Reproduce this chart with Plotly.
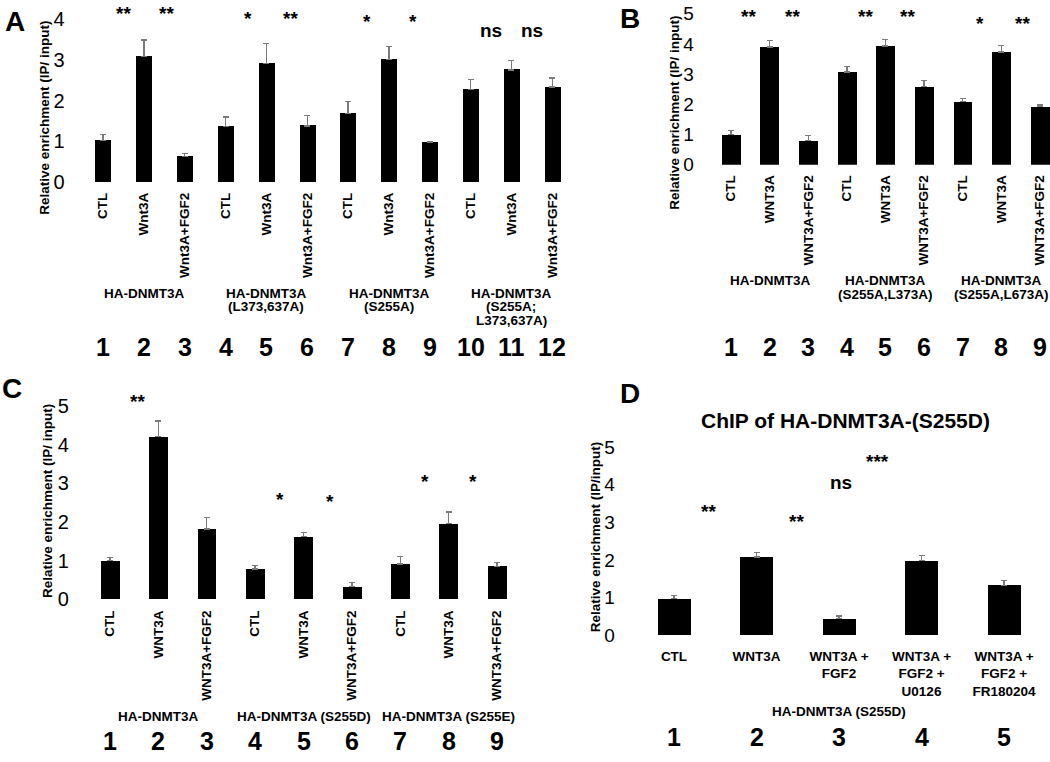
import plotly.graph_objects as go

W, H = 1050, 762
FONT = "Liberation Sans, Arial, sans-serif"

# ---------------- data ----------------
# Panel A
a_labels = ["CTL", "Wnt3A", "Wnt3A+FGF2"] * 4
a_values = [1.02, 3.08, 0.63, 1.37, 2.90, 1.38, 1.68, 3.00, 0.97, 2.27, 2.75, 2.33]
a_errors = [0.15, 0.40, 0.07, 0.23, 0.50, 0.26, 0.30, 0.32, 0.03, 0.25, 0.23, 0.22]
a_groups = ["HA-DNMT3A", "HA-DNMT3A\n(L373,637A)", "HA-DNMT3A\n(S255A)",
            "HA-DNMT3A\n(S255A;\nL373,637A)"]
a_group_pos = [1, 4, 7, 10]
a_numbers = [str(i) for i in range(1, 13)]
a_sig_text = ["**", "**", "*", "**", "*", "*", "ns", "ns"]
a_sig_x = [0.5, 1.55, 3.55, 4.58, 6.47, 7.6, 9.5, 10.5]
a_sig_y = [4.24, 4.24, 4.12, 4.12, 4.05, 4.05, 3.71, 3.71]
a_ticks = [0, 1, 2, 3, 4]

# Panel B
b_labels = ["CTL", "WNT3A", "WNT3A+FGF2"] * 3
b_values = [1.01, 3.90, 0.80, 3.07, 3.93, 2.60, 2.10, 3.73, 1.93]
b_errors = [0.13, 0.22, 0.16, 0.19, 0.22, 0.18, 0.09, 0.22, 0.05]
b_groups = ["HA-DNMT3A", "HA-DNMT3A\n(S255A,L373A)", "HA-DNMT3A\n(S255A,L673A)"]
b_group_pos = [1, 4, 7]
b_numbers = [str(i) for i in range(1, 10)]
b_sig_text = ["**", "**", "**", "**", "*", "**"]
b_sig_x = [0.44, 1.58, 3.47, 4.56, 6.45, 7.56]
b_sig_y = [5.06, 5.06, 5.06, 5.06, 4.84, 4.84]
b_ticks = [0, 1, 2, 3, 4, 5]

# Panel C
c_labels = ["CTL", "WNT3A", "WNT3A+FGF2"] * 3
c_values = [1.00, 4.22, 1.82, 0.78, 1.62, 0.32, 0.91, 1.96, 0.85]
c_errors = [0.08, 0.40, 0.30, 0.09, 0.10, 0.11, 0.20, 0.30, 0.09]
c_groups = ["HA-DNMT3A", "HA-DNMT3A (S255D)", "HA-DNMT3A (S255E)"]
c_group_pos = [1, 4, 7]
c_numbers = [str(i) for i in range(1, 10)]
c_sig_text = ["**", "**", "*", "*", "*", "*"]
c_sig_x = [0.56, 1.59, 3.51, 4.55, 6.51, 7.5]
c_sig_y = [5.27, 5.32, 2.72, 2.67, 3.18, 3.18]
c_ticks = [0, 1, 2, 3, 4, 5]

# Panel D
d_labels = ["CTL", "WNT3A", "WNT3A +<br>FGF2", "WNT3A +<br>FGF2 +<br>U0126",
            "WNT3A +<br>FGF2 +<br>FR180204"]
d_values = [0.98, 2.08, 0.45, 1.98, 1.33]
d_errors = [0.07, 0.12, 0.06, 0.14, 0.13]
d_groups = ["HA-DNMT3A (S255D)"]
d_group_pos = [2]
d_numbers = [str(i) for i in range(1, 6)]
d_sig_text = ["**", "**", "ns", "***"]
d_sig_x = [0.42, 1.49, 2.02, 2.47]
d_sig_y = [3.41, 3.15, 4.06, 4.74]
d_ticks = [0, 1, 2, 3, 4, 5]
d_title = "ChIP of HA-DNMT3A-(S255D)"

YTITLE = "Relative enrichment (IP/ input)"
YTITLE_D = "Relative enrichment (IP/input)"

# ---------------- layout geometry (pixels) ----------------
def fx(px):
    return px / W


def fy(py):
    return 1 - py / H


panels = [
    dict(key="", labels=a_labels, values=a_values, errors=a_errors, bw=0.39,
         x_px=(82.6, 572.6), xr=[-0.5, 11.5], y_px=(182, 2.5), yr=[0, 4.3],
         ticks=a_ticks, tickangle=-90, tfs=20, ticklen=13, xtl=4,
         groups=a_groups, gpos=a_group_pos, g_mid=295, numbers=a_numbers, n_y=350,
         sig=(a_sig_text, a_sig_x, a_sig_y), letter=("A", 15, 18),
         ytitle=(YTITLE, 45, 116)),
    dict(key="2", labels=b_labels, values=b_values, errors=b_errors, bw=0.49,
         x_px=(711.7, 1050), xr=[-0.5, 8.26], y_px=(164, 3.8), yr=[0, 5.2],
         ticks=b_ticks, tickangle=-90, tfs=19, ticklen=13, xtl=4,
         groups=b_groups, gpos=b_group_pos, g_mid=282, numbers=b_numbers, n_y=350,
         sig=(b_sig_text, b_sig_x, b_sig_y), letter=("B", 630, 15),
         ytitle=(YTITLE, 675, 111)),
    dict(key="3", labels=c_labels, values=c_values, errors=c_errors, bw=0.39,
         x_px=(85.8, 521.2), xr=[-0.5, 8.5], y_px=(607, 398.7), yr=[0, 5.3],
         ticks=c_ticks, tickangle=-90, tfs=20, ticklen=12, xtl=5,
         groups=c_groups, gpos=c_group_pos, g_mid=727, numbers=c_numbers, n_y=752,
         sig=(c_sig_text, c_sig_x, c_sig_y), letter=("C", 12, 392),
         ytitle=(YTITLE, 47, 507)),
    dict(key="4", labels=d_labels, values=d_values, errors=d_errors, bw=0.40,
         x_px=(632.75, 1045.25), xr=[-0.5, 4.5], y_px=(644, 440.5), yr=[0, 5.3],
         ticks=d_ticks, tickangle=0, tfs=19, ticklen=13, xtl=8,
         groups=d_groups, gpos=d_group_pos, g_mid=722, numbers=d_numbers, n_y=748,
         sig=(d_sig_text, d_sig_x, d_sig_y), letter=("D", 630, 397),
         ytitle=(YTITLE_D, 595, 544)),
]

fig = go.Figure()
annotations = []
layout = {}

for p in panels:
    k = p["key"]
    xa, ya = "x" + k, "y" + k
    n = len(p["values"])
    xs = list(range(n))
    fig.add_trace(go.Bar(
        x=xs, y=p["values"], width=p["bw"], xaxis=xa, yaxis=ya,
        marker=dict(color="black", line=dict(width=0)),
        error_y=dict(type="data", array=p["errors"], arrayminus=[0] * n,
                     symmetric=False, color="#7a7a7a", thickness=1.3, width=3),
        showlegend=False, hoverinfo="skip",
    ))
    layout["xaxis" + k] = dict(
        domain=[fx(p["x_px"][0]), fx(p["x_px"][1])], range=p["xr"], anchor=ya,
        tickmode="array", tickvals=xs, ticktext=p["labels"], tickangle=p["tickangle"],
        ticks="outside", ticklen=p["xtl"], tickcolor="rgba(0,0,0,0)",
        tickfont=dict(family=FONT, size=13.5, color="black", weight="bold"),
        ticklabeloverflow="allow",
        showgrid=False, zeroline=False, showline=False, fixedrange=True,
    )
    layout["yaxis" + k] = dict(
        domain=[fy(p["y_px"][0]), fy(p["y_px"][1])], range=p["yr"], anchor=xa,
        tickmode="array", tickvals=p["ticks"],
        ticks="outside", ticklen=p["ticklen"], tickcolor="rgba(0,0,0,0)",
        tickfont=dict(family=FONT, size=p["tfs"], color="black"),
        ticklabeloverflow="allow",
        showgrid=False, zeroline=False, showline=False, fixedrange=True,
    )
    # significance marks
    for t, sx, sy in zip(*p["sig"]):
        annotations.append(dict(
            x=sx, y=sy, xref=xa, yref=ya, text=t, showarrow=False,
            yshift=-5 if "*" in t else 0,
            font=dict(family=FONT, size=19, color="black", weight="bold")))
    # group labels (one annotation per line)
    for g, gp in zip(p["groups"], p["gpos"]):
        for li, line in enumerate(g.split("\n")):
            annotations.append(dict(
                x=gp, y=fy(p["g_mid"] + li * 14), xref=xa, yref="paper",
                text=line, showarrow=False, yanchor="middle",
                font=dict(family=FONT, size=13.5, color="black", weight="bold")))
    # lane numbers
    for i, num in enumerate(p["numbers"]):
        annotations.append(dict(
            x=i, y=fy(p["n_y"]), xref=xa, yref="paper", text=num, showarrow=False,
            yanchor="middle",
            font=dict(family=FONT, size=25, color="black", weight="bold")))
    # panel letter
    lt, lx, ly = p["letter"]
    annotations.append(dict(
        x=fx(lx), y=fy(ly), xref="paper", yref="paper", text=lt, showarrow=False,
        xanchor="center", yanchor="middle",
        font=dict(family=FONT, size=28, color="black", weight="bold")))
    # y-axis title
    tt, tx, ty = p["ytitle"]
    annotations.append(dict(
        x=fx(tx), y=fy(ty), xref="paper", yref="paper", text=tt, showarrow=False,
        textangle=-90, xanchor="center", yanchor="middle",
        font=dict(family=FONT, size=13.5, color="black", weight="bold")))

# panel D title
annotations.append(dict(
    x=fx(845), y=fy(425), xref="paper", yref="paper", text=d_title, showarrow=False,
    xanchor="center", yanchor="middle",
    font=dict(family=FONT, size=21, color="black", weight="bold")))

fig.update_layout(
    width=W, height=H,
    margin=dict(l=0, r=0, t=0, b=0),
    paper_bgcolor="white", plot_bgcolor="white",
    font=dict(family=FONT, color="black"),
    annotations=annotations,
    bargap=0,
    **layout,
)

fig.write_html(
    "out.html",
    config={"displayModeBar": False},
    post_script="document.body.style.margin='0';document.body.style.overflow='hidden';",
)
